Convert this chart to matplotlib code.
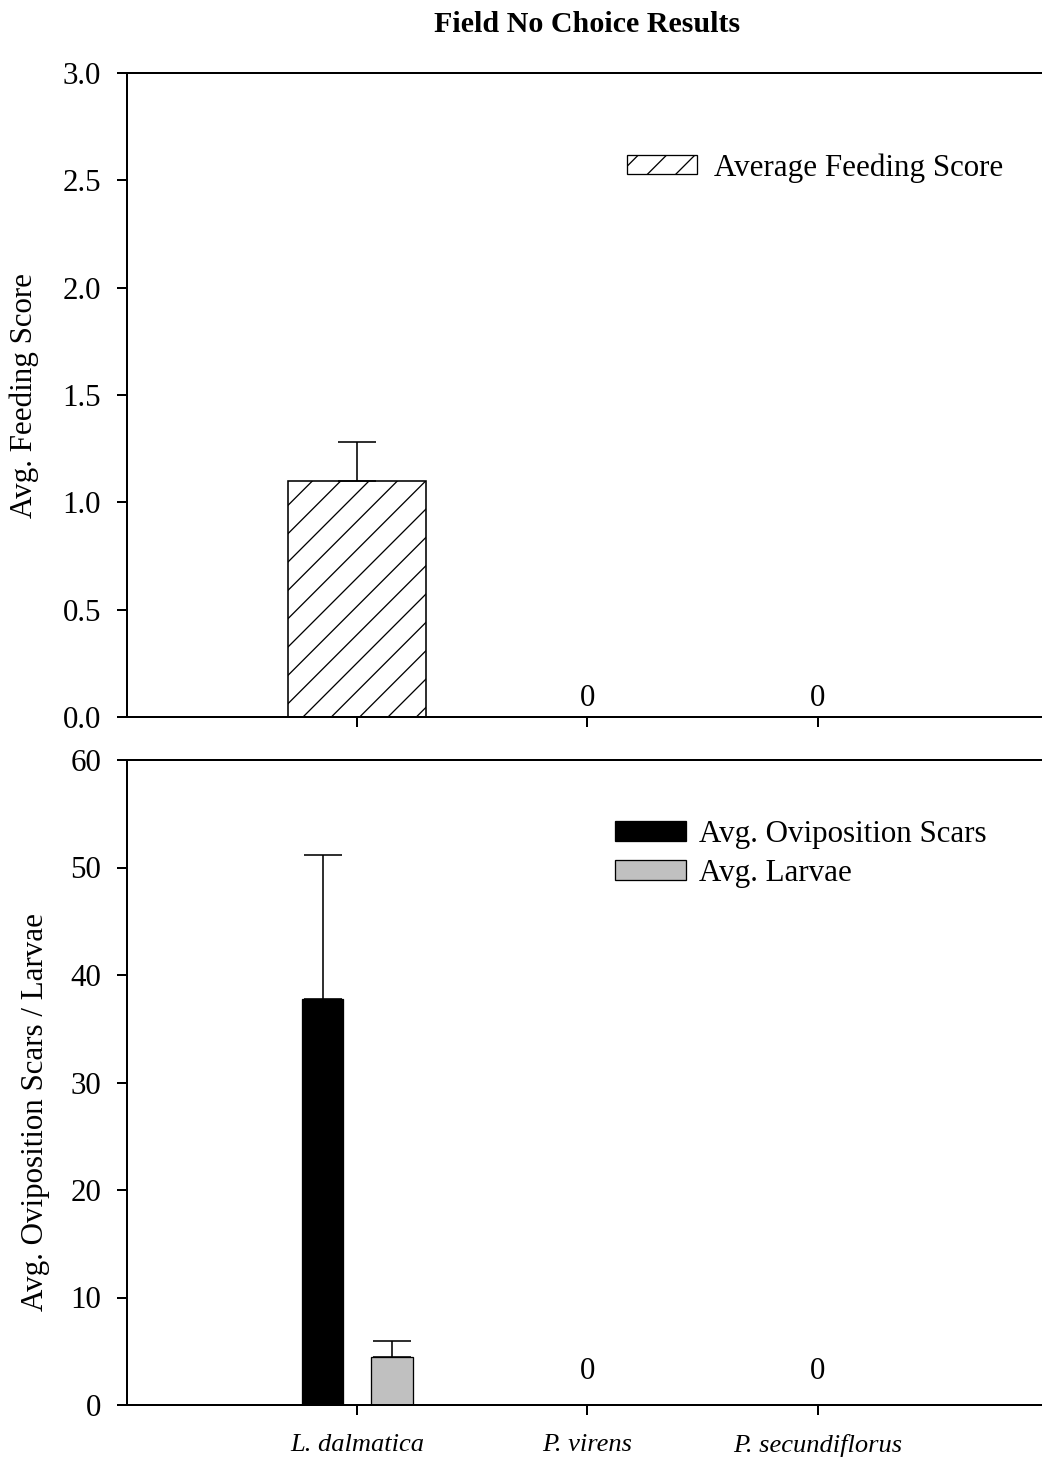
import matplotlib
matplotlib.use("Agg")
import matplotlib.pyplot as plt
from matplotlib.patches import Patch
import numpy as np

# data
species = ["L. dalmatica", "P. virens", "P. secundiflorus"]
feeding = [1.10, 0.0, 0.0]
feeding_err = [0.18, 0.0, 0.0]
scars = [37.8, 0.0, 0.0]
scars_err = [13.4, 0.0, 0.0]
larvae = [4.5, 0.0, 0.0]
larvae_err = [1.5, 0.0, 0.0]
zero_idx = [1, 2]

DPI = 170
W, H = 1042, 1457
px = 72.0 / DPI  # points per pixel

plt.rcParams["font.family"] = ["Liberation Serif", "DejaVu Serif"]
plt.rcParams["hatch.linewidth"] = 1.3 * px

fig = plt.figure(figsize=(W / DPI, H / DPI), dpi=DPI)
left = 127 / W
width = 1 - left
ax1 = fig.add_axes([left, 1 - 717 / H, width, 644 / H])
ax2 = fig.add_axes([left, 1 - 1405 / H, width, 645 / H])

x = np.arange(len(species))
fs = 31 * px
lw = 2 * px
err_kw = dict(ecolor="black", elinewidth=1.6 * px, capsize=19 * px, capthick=1.6 * px)

# top panel
ax1.bar(x, feeding, 0.6, yerr=[np.zeros(3), feeding_err], color="white",
        edgecolor="black", linewidth=1.6 * px, hatch="//", error_kw=err_kw,
        label="Average Feeding Score")
ax1.set_ylim(0, 3.0)
ax1.set_yticks(np.arange(0, 3.01, 0.5))
ax1.set_yticklabels([f"{v:.1f}" for v in np.arange(0, 3.01, 0.5)])
ax1.set_xticks(x)
ax1.set_xticklabels([])
ax1.set_ylabel("Avg. Feeding Score", fontsize=fs, va="center")
ax1.yaxis.set_label_coords(-0.112, 0.5)
for i in zero_idx:
    ax1.text(x[i], 0.018, "0", ha="center", va="bottom", fontsize=fs)
ax1.legend(handles=[Patch(facecolor="white", edgecolor="black", hatch="//",
                          linewidth=1.3 * px, label="Average Feeding Score")],
           loc="upper left", bbox_to_anchor=(0.516, 0.919), frameon=False,
           fontsize=fs, handlelength=2.25, handleheight=0.55, handletextpad=0.55)

# bottom panel
ax2.bar(x - 0.15, scars, 0.18, yerr=[np.zeros(3), scars_err], color="black",
        edgecolor="black", linewidth=1.3 * px, error_kw=err_kw,
        label="Avg. Oviposition Scars")
ax2.bar(x + 0.15, larvae, 0.18, yerr=[np.zeros(3), larvae_err], color="#c0c0c0",
        edgecolor="black", linewidth=1.3 * px, error_kw=err_kw,
        label="Avg. Larvae")
ax2.set_ylim(0, 60)
ax2.set_yticks(np.arange(0, 61, 10))
ax2.set_xticks(x)
ax2.set_xticklabels(species, fontsize=26.5 * px, style="italic")
ax2.set_ylabel("Avg. Oviposition Scars / Larvae", fontsize=fs, va="center")
ax2.yaxis.set_label_coords(-0.1, 0.454)
for i in zero_idx:
    ax2.text(x[i], 1.8, "0", ha="center", va="bottom", fontsize=fs)
ax2.legend(loc="upper left", bbox_to_anchor=(0.503, 0.951), frameon=False,
           fontsize=fs, handlelength=2.3, handleheight=0.62,
           handletextpad=0.4, labelspacing=0.33)

for ax in (ax1, ax2):
    ax.set_xlim(-1, 2.974)
    ax.spines["right"].set_visible(False)
    for s in ("left", "top", "bottom"):
        ax.spines[s].set_linewidth(lw)
    ax.tick_params(axis="y", direction="out", length=10 * px, width=lw,
                   labelsize=fs, pad=16 * px)
    ax.tick_params(axis="x", direction="out", length=10 * px, width=lw,
                   pad=19 * px)

fig.text(587 / W, 1 - 24 / H, "Field No Choice Results", ha="center",
         va="center", fontsize=30 * px, fontweight="bold")

fig.savefig("out.png", dpi=DPI)
